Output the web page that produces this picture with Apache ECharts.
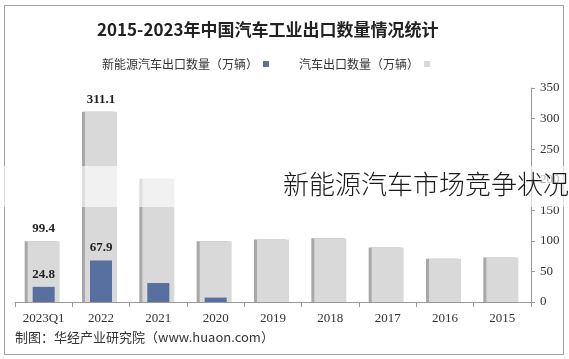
<!DOCTYPE html>
<html><head><meta charset="utf-8">
<script src="https://cdn.jsdelivr.net/npm/echarts@6/dist/echarts.min.js"></script>
<style>html,body{margin:0;padding:0;background:#fff}#c{width:569px;height:359px}</style>
</head><body><div id="c"></div>
<script>
const categories = ['2015','2016','2017','2018','2019','2020','2021','2022','2023Q1'];
const totalExports = [72.8, 70.8, 89.1, 104.1, 102.4, 99.5, 201.5, 311.1, 99.4];
const nevExports = [null, null, null, null, null, 7.2, 31.0, 67.9, 24.8];
const labeledCategories = ['2022', '2023Q1'];
const yTicks = [0, 50, 100, 150, 200, 250, 300, 350];
const seriesNames = ['汽车出口数量（万辆）', '新能源汽车出口数量（万辆）'];

const chart = echarts.init(document.getElementById('c'));
const serif = 'Liberation Serif, DejaVu Serif, serif';
const cjk = 'Noto Sans CJK SC, sans-serif';
function withLabels(arr) {
  return arr.map((v, i) => ({
    value: v,
    label: { show: labeledCategories.indexOf(categories[i]) >= 0 && v != null }
  }));
}
const valLabel = {
  position: 'top', distance: 6, color: '#222', fontFamily: serif,
  fontWeight: 'bold', fontSize: 13, formatter: p => p.value.toFixed(1)
};
const xBase = {
  type: 'category', data: categories, inverse: true,
  axisLine: { lineStyle: { color: '#999' } },
  axisTick: { show: true, length: 5, lineStyle: { color: '#999' } },
  axisLabel: { color: '#333', fontFamily: serif, fontSize: 13, margin: 10, interval: 0 }
};
chart.setOption({
  animation: false,
  title: {
    text: '2015-2023年中国汽车工业出口数量情况统计',
    left: 92, top: 16,
    textStyle: { fontFamily: cjk, fontSize: 17, fontWeight: 'bold', color: '#222' }
  },
  legend: {
    data: [seriesNames[1], seriesNames[0]],
    left: 97, top: 53, align: 'right', itemGap: 30,
    itemWidth: 6, itemHeight: 6, icon: 'rect',
    textStyle: { fontFamily: cjk, fontSize: 12, color: '#333' }
  },
  grid: { left: 15, right: 38, top: 88, bottom: 57 },
  xAxis: [xBase, Object.assign({}, xBase, { show: false })],
  yAxis: {
    type: 'value', position: 'right', min: 0, max: 350, interval: 50,
    axisLine: { show: true, lineStyle: { color: '#999' } },
    axisTick: { show: true, length: 4, lineStyle: { color: '#999' } },
    splitLine: { show: false },
    axisLabel: { color: '#333', fontFamily: serif, fontSize: 13, margin: 9,
      formatter: v => yTicks.indexOf(v) >= 0 ? String(v) : '' }
  },
  series: [
    {
      name: seriesNames[0], type: 'bar', xAxisIndex: 0, barWidth: 32,
      data: withLabels(totalExports),
      itemStyle: { color: '#d9d9d9', shadowColor: '#a8a8a8', shadowOffsetX: -3, shadowBlur: 0 },
      label: valLabel, z: 2
    },
    {
      name: seriesNames[1], type: 'bar', xAxisIndex: 1, barWidth: 22,
      data: withLabels(nevExports),
      itemStyle: { color: '#5870a0' },
      label: valLabel, z: 3
    }
  ],
  graphic: [
    { type: 'rect', shape: { x: 4.5, y: 5.5, width: 559, height: 349 }, style: { fill: 'none', stroke: '#a0a0a0', lineWidth: 1 }, z: 1 },
    { type: 'text', left: 15, top: 331, style: { text: '制图：华经产业研究院（www.huaon.com）', font: '13px ' + cjk, fill: '#333' } },
    { type: 'rect', shape: { x: 0, y: 166, width: 569, height: 41 }, style: { fill: 'rgba(255,255,255,0.62)' }, z: 50 },
    { type: 'text', left: 283, top: 171, style: { text: '新能源汽车市场竞争状况', font: '300 26px ' + cjk, fill: '#1a1a1a' }, z: 51 }
  ]
});
</script></body></html>
